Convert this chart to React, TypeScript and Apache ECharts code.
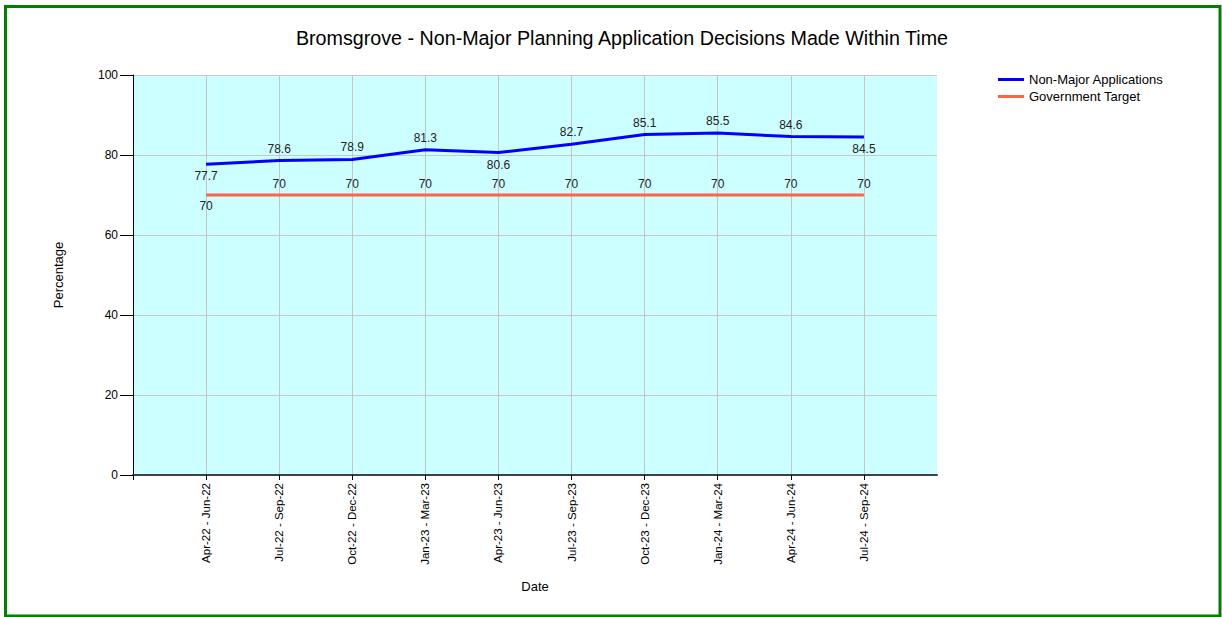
import React, { useEffect, useRef } from "react";
import * as echarts from "echarts";

const categories = [
  "Apr-22 - Jun-22",
  "Jul-22 - Sep-22",
  "Oct-22 - Dec-22",
  "Jan-23 - Mar-23",
  "Apr-23 - Jun-23",
  "Jul-23 - Sep-23",
  "Oct-23 - Dec-23",
  "Jan-24 - Mar-24",
  "Apr-24 - Jun-24",
  "Jul-24 - Sep-24",
];
const nonMajor = [77.7, 78.6, 78.9, 81.3, 80.6, 82.7, 85.1, 85.5, 84.6, 84.5];
const target = [70, 70, 70, 70, 70, 70, 70, 70, 70, 70];
const nonMajorLabelPos = ["bottom", "top", "top", "top", "bottom", "top", "top", "top", "top", "bottom"];
const targetLabelPos = ["bottom", "top", "top", "top", "top", "top", "top", "top", "top", "top"];
const yTicks = [0, 20, 40, 60, 80, 100];

const FONT = "'Liberation Sans', Arial, sans-serif";

export default function App() {
  const ref = useRef<HTMLDivElement>(null);
  useEffect(() => {
    if (!ref.current) return;
    const chart = echarts.init(ref.current, undefined, { renderer: "svg" });
    const xCats = ["", ...categories, ""];
    const pad = (arr: number[], pos: string[]) => [
      null,
      ...arr.map((v, i) => ({ value: v, label: { position: pos[i] } })),
      null,
    ];
    chart.setOption({
      animation: false,
      textStyle: { fontFamily: FONT },
      title: {
        text: "Bromsgrove - Non-Major Planning Application Decisions Made Within Time",
        left: 617,
        textAlign: "center",
        top: 23,
        textStyle: { fontSize: 19.7, fontWeight: "normal", color: "#000", fontFamily: FONT },
      },
      legend: {
        orient: "vertical",
        left: 993,
        top: 68,
        itemWidth: 26,
        itemHeight: 3,
        itemGap: 4,
        icon: "rect",
        textStyle: { fontSize: 13, color: "#000", fontFamily: FONT },
        data: ["Non-Major Applications", "Government Target"],
      },
      graphic: [
        {
          type: "rect",
          shape: { x: 5.5, y: 6.5, width: 1214.5, height: 609.5 },
          style: { fill: "none", stroke: "#008000", lineWidth: 3 },
          silent: true,
        },
      ],
      grid: {
        left: 133,
        top: 75,
        width: 804,
        height: 400,
        show: true,
        backgroundColor: "#ccffff",
        borderWidth: 0,
      },
      xAxis: {
        type: "category",
        data: xCats,
        boundaryGap: false,
        name: "Date",
        nameLocation: "middle",
        nameGap: 105,
        nameTextStyle: { fontSize: 13, color: "#000", fontFamily: FONT },
        axisLine: { lineStyle: { color: "#404040", width: 2 } },
        axisTick: {
          show: true,
          length: 5,
          interval: (i: number) => i < 11,
          lineStyle: { color: "#000" },
        },
        axisLabel: {
          rotate: 90,
          interval: 0,
          margin: 8,
          fontSize: 11.5,
          color: "#000",
          fontFamily: FONT,
        },
        splitLine: {
          show: true,
          interval: (i: number) => i > 0 && i < 11,
          lineStyle: { color: "#c4c4c4", width: 1 },
        },
      },
      yAxis: {
        type: "value",
        min: yTicks[0],
        max: yTicks[yTicks.length - 1],
        interval: 20,
        name: "Percentage",
        nameLocation: "middle",
        nameGap: 68,
        nameRotate: 90,
        nameTextStyle: { fontSize: 13, color: "#000", fontFamily: FONT },
        axisLine: { show: true, lineStyle: { color: "#000", width: 1 } },
        axisTick: { show: true, length: 13, lineStyle: { color: "#000" } },
        axisLabel: { margin: 15, fontSize: 12, color: "#000", fontFamily: FONT },
        splitLine: { show: true, lineStyle: { color: "#c8c8c8", width: 1 } },
      },
      series: [
        {
          name: "Non-Major Applications",
          type: "line",
          data: pad(nonMajor, nonMajorLabelPos),
          showSymbol: true,
          symbol: "circle",
          symbolSize: 0.1,
          lineStyle: { color: "#0000ff", width: 3 },
          itemStyle: { color: "#0000ff" },
          label: { show: true, fontSize: 12, color: "#222", fontFamily: FONT, distance: 6 },
          z: 3,
        },
        {
          name: "Government Target",
          type: "line",
          data: pad(target, targetLabelPos),
          showSymbol: true,
          symbol: "circle",
          symbolSize: 0.1,
          lineStyle: { color: "#ff6347", width: 3 },
          itemStyle: { color: "#ff6347" },
          label: { show: true, fontSize: 12, color: "#222", fontFamily: FONT, distance: 5 },
          z: 2,
        },
      ],
    });
    return () => chart.dispose();
  }, []);
  return (
    <div
      ref={ref}
      style={{ position: "absolute", left: 0, top: 0, width: 1222, height: 617, background: "#fff" }}
    />
  );
}
